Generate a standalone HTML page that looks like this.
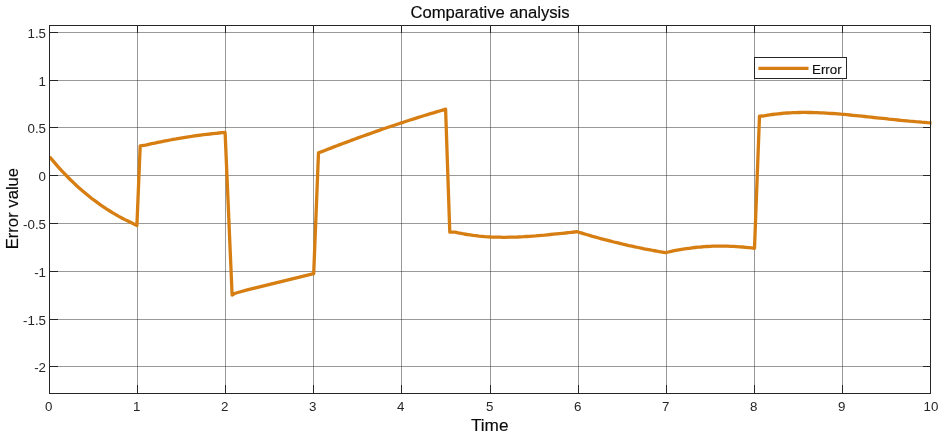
<!DOCTYPE html>
<html lang="en">
<head>
<meta charset="utf-8">
<title>Comparative analysis</title>
<style>
html,body{margin:0;padding:0;background:#fff;}
body{width:946px;height:440px;overflow:hidden;}
svg{display:block;will-change:transform;}
text{font-family:"Liberation Sans",sans-serif;fill:#262626;}
.tk{font-size:13.33px;}
.lb{font-size:16.67px;fill:#0a0a0a;stroke:#0a0a0a;stroke-width:0.15px;}
.lg{font-size:13.33px;fill:#111;stroke:#111;stroke-width:0.15px;}
</style>
</head>
<body>
<svg width="946" height="440" viewBox="0 0 946 440">
<rect x="0" y="0" width="946" height="440" fill="#ffffff"/>

<g stroke="#262626" stroke-opacity="0.47" stroke-width="1" shape-rendering="crispEdges" fill="none">
<line x1="137.5" y1="25.5" x2="137.5" y2="393.5"/>
<line x1="225.5" y1="25.5" x2="225.5" y2="393.5"/>
<line x1="313.5" y1="25.5" x2="313.5" y2="393.5"/>
<line x1="401.5" y1="25.5" x2="401.5" y2="393.5"/>
<line x1="490.5" y1="25.5" x2="490.5" y2="393.5"/>
<line x1="578.5" y1="25.5" x2="578.5" y2="393.5"/>
<line x1="666.5" y1="25.5" x2="666.5" y2="393.5"/>
<line x1="754.5" y1="25.5" x2="754.5" y2="393.5"/>
<line x1="842.5" y1="25.5" x2="842.5" y2="393.5"/>
<line x1="49.5" y1="32.5" x2="930.5" y2="32.5"/>
<line x1="49.5" y1="80.5" x2="930.5" y2="80.5"/>
<line x1="49.5" y1="127.5" x2="930.5" y2="127.5"/>
<line x1="49.5" y1="175.5" x2="930.5" y2="175.5"/>
<line x1="49.5" y1="223.5" x2="930.5" y2="223.5"/>
<line x1="49.5" y1="271.5" x2="930.5" y2="271.5"/>
<line x1="49.5" y1="319.5" x2="930.5" y2="319.5"/>
<line x1="49.5" y1="366.5" x2="930.5" y2="366.5"/>
</g>
<clipPath id="c"><rect x="49.5" y="25.5" width="882.0" height="368.0"/></clipPath>
<path d="M49.6,156.7 L52.6,160.4 L55.6,163.9 L58.6,167.4 L61.6,170.7 L64.7,173.9 L67.7,177.0 L70.7,180.0 L73.7,182.9 L76.7,185.8 L79.7,188.5 L82.7,191.1 L85.7,193.6 L88.7,196.1 L91.7,198.5 L94.8,200.7 L97.8,202.9 L100.8,205.1 L103.8,207.1 L106.8,209.1 L109.8,211.0 L112.8,212.9 L115.8,214.6 L118.8,216.4 L121.8,218.0 L124.9,219.6 L127.9,221.1 L130.9,222.6 L133.9,224.1 L136.9,225.5 L140.2,145.8 L145.6,145.1 L148.7,144.4 L151.7,143.7 L154.8,143.1 L157.8,142.4 L160.9,141.8 L163.9,141.2 L167.0,140.6 L170.1,140.0 L173.1,139.4 L176.2,138.9 L179.2,138.3 L182.3,137.8 L185.3,137.3 L188.4,136.8 L191.5,136.4 L194.5,135.9 L197.6,135.5 L200.6,135.1 L203.7,134.7 L206.8,134.3 L209.8,134.0 L212.9,133.6 L215.9,133.3 L219.0,133.0 L222.0,132.7 L225.1,132.5 L232.1,295.0 L234.6,293.5 L237.8,292.5 L247.3,289.9 L313.7,273.6 L318.5,152.7 L321.8,151.6 L324.8,150.5 L327.8,149.3 L330.9,148.1 L333.9,146.9 L336.9,145.8 L339.9,144.6 L342.9,143.5 L346.0,142.4 L349.0,141.2 L352.0,140.1 L355.0,139.0 L358.0,137.9 L361.1,136.8 L364.1,135.7 L367.1,134.6 L370.1,133.6 L373.1,132.5 L376.2,131.4 L379.2,130.4 L382.2,129.3 L385.2,128.3 L388.2,127.3 L391.2,126.3 L394.3,125.3 L397.3,124.2 L400.3,123.2 L403.3,122.3 L406.3,121.3 L409.4,120.3 L412.4,119.3 L415.4,118.4 L418.4,117.4 L421.4,116.5 L424.5,115.5 L427.5,114.6 L430.5,113.7 L433.5,112.8 L436.5,111.9 L439.6,111.0 L442.6,110.1 L445.6,109.2 L449.8,232.2 L455.2,232.1 L458.2,232.8 L461.2,233.4 L464.1,234.0 L467.1,234.5 L470.1,234.9 L473.1,235.4 L476.0,235.7 L479.0,236.1 L482.0,236.3 L485.0,236.6 L488.0,236.8 L490.9,237.0 L493.9,237.1 L496.9,237.2 L499.9,237.2 L502.8,237.3 L505.8,237.3 L508.8,237.2 L511.8,237.2 L514.8,237.1 L517.7,237.0 L520.7,236.8 L523.7,236.7 L526.7,236.5 L529.7,236.3 L532.6,236.1 L535.6,235.9 L538.6,235.6 L541.6,235.3 L544.5,235.1 L547.5,234.8 L550.5,234.5 L553.5,234.2 L556.5,233.9 L559.4,233.6 L562.4,233.3 L565.4,233.0 L568.4,232.6 L571.3,232.3 L574.3,232.0 L577.3,231.7 L580.3,232.7 L583.4,233.6 L586.4,234.5 L589.5,235.4 L592.5,236.3 L595.5,237.1 L598.6,238.0 L601.6,238.8 L604.6,239.6 L607.7,240.4 L610.7,241.2 L613.8,242.0 L616.8,242.7 L619.8,243.4 L622.9,244.2 L625.9,244.9 L628.9,245.6 L632.0,246.2 L635.0,246.9 L638.1,247.5 L641.1,248.1 L644.1,248.8 L647.2,249.3 L650.2,249.9 L653.2,250.5 L656.3,251.0 L659.3,251.6 L662.4,252.1 L665.4,252.6 L668.4,252.0 L671.3,251.3 L674.3,250.7 L677.3,250.1 L680.2,249.6 L683.2,249.1 L686.2,248.7 L689.2,248.3 L692.1,247.9 L695.1,247.5 L698.1,247.2 L701.0,247.0 L704.0,246.7 L707.0,246.5 L710.0,246.4 L712.9,246.2 L715.9,246.2 L718.9,246.1 L721.8,246.1 L724.8,246.1 L727.8,246.2 L730.7,246.3 L733.7,246.4 L736.7,246.6 L739.6,246.8 L742.6,247.0 L745.6,247.3 L748.6,247.6 L751.5,247.9 L754.5,248.3 L759.5,116.1 L763.5,116.0 L766.5,115.4 L769.5,114.9 L772.4,114.5 L775.4,114.1 L778.4,113.8 L781.4,113.5 L784.4,113.2 L787.4,113.0 L790.3,112.8 L793.3,112.7 L796.3,112.6 L799.3,112.5 L802.3,112.4 L805.2,112.4 L808.2,112.5 L811.2,112.5 L814.2,112.6 L817.2,112.7 L820.2,112.8 L823.1,112.9 L826.1,113.1 L829.1,113.3 L832.1,113.5 L835.1,113.7 L838.1,113.9 L841.0,114.2 L844.0,114.4 L847.0,114.7 L850.0,115.0 L853.0,115.3 L855.9,115.6 L858.9,115.9 L861.9,116.2 L864.9,116.5 L867.9,116.8 L870.9,117.1 L873.8,117.5 L876.8,117.8 L879.8,118.1 L882.8,118.4 L885.8,118.7 L888.8,119.1 L891.7,119.4 L894.7,119.7 L897.7,120.0 L900.7,120.3 L903.7,120.6 L906.6,120.9 L909.6,121.2 L912.6,121.4 L915.6,121.7 L918.6,121.9 L921.6,122.2 L924.5,122.4 L927.5,122.7 L930.5,122.9 L934.0,123.2" fill="none" stroke="#D67E12" stroke-width="3.3" stroke-linejoin="round" stroke-linecap="butt" clip-path="url(#c)"/>
<g stroke="#262626" stroke-width="1" shape-rendering="crispEdges" fill="none">
<rect x="49.5" y="25.5" width="881.0" height="368.0"/>
<line x1="49.5" y1="393.5" x2="49.5" y2="385.0"/>
<line x1="49.5" y1="25.5" x2="49.5" y2="33.0"/>
<line x1="137.5" y1="393.5" x2="137.5" y2="385.0"/>
<line x1="137.5" y1="25.5" x2="137.5" y2="33.0"/>
<line x1="225.5" y1="393.5" x2="225.5" y2="385.0"/>
<line x1="225.5" y1="25.5" x2="225.5" y2="33.0"/>
<line x1="313.5" y1="393.5" x2="313.5" y2="385.0"/>
<line x1="313.5" y1="25.5" x2="313.5" y2="33.0"/>
<line x1="401.5" y1="393.5" x2="401.5" y2="385.0"/>
<line x1="401.5" y1="25.5" x2="401.5" y2="33.0"/>
<line x1="490.5" y1="393.5" x2="490.5" y2="385.0"/>
<line x1="490.5" y1="25.5" x2="490.5" y2="33.0"/>
<line x1="578.5" y1="393.5" x2="578.5" y2="385.0"/>
<line x1="578.5" y1="25.5" x2="578.5" y2="33.0"/>
<line x1="666.5" y1="393.5" x2="666.5" y2="385.0"/>
<line x1="666.5" y1="25.5" x2="666.5" y2="33.0"/>
<line x1="754.5" y1="393.5" x2="754.5" y2="385.0"/>
<line x1="754.5" y1="25.5" x2="754.5" y2="33.0"/>
<line x1="842.5" y1="393.5" x2="842.5" y2="385.0"/>
<line x1="842.5" y1="25.5" x2="842.5" y2="33.0"/>
<line x1="930.5" y1="393.5" x2="930.5" y2="385.0"/>
<line x1="930.5" y1="25.5" x2="930.5" y2="33.0"/>
<line x1="49.5" y1="32.5" x2="57.5" y2="32.5"/>
<line x1="930.5" y1="32.5" x2="922.5" y2="32.5"/>
<line x1="49.5" y1="80.5" x2="57.5" y2="80.5"/>
<line x1="930.5" y1="80.5" x2="922.5" y2="80.5"/>
<line x1="49.5" y1="127.5" x2="57.5" y2="127.5"/>
<line x1="930.5" y1="127.5" x2="922.5" y2="127.5"/>
<line x1="49.5" y1="175.5" x2="57.5" y2="175.5"/>
<line x1="930.5" y1="175.5" x2="922.5" y2="175.5"/>
<line x1="49.5" y1="223.5" x2="57.5" y2="223.5"/>
<line x1="930.5" y1="223.5" x2="922.5" y2="223.5"/>
<line x1="49.5" y1="271.5" x2="57.5" y2="271.5"/>
<line x1="930.5" y1="271.5" x2="922.5" y2="271.5"/>
<line x1="49.5" y1="319.5" x2="57.5" y2="319.5"/>
<line x1="930.5" y1="319.5" x2="922.5" y2="319.5"/>
<line x1="49.5" y1="366.5" x2="57.5" y2="366.5"/>
<line x1="930.5" y1="366.5" x2="922.5" y2="366.5"/>
</g>
<g class="tk" text-anchor="middle">
<text x="48.6" y="411">0</text>
<text x="136.6" y="411">1</text>
<text x="224.6" y="411">2</text>
<text x="312.6" y="411">3</text>
<text x="400.6" y="411">4</text>
<text x="489.6" y="411">5</text>
<text x="577.6" y="411">6</text>
<text x="665.6" y="411">7</text>
<text x="753.6" y="411">8</text>
<text x="841.6" y="411">9</text>
<text x="930.9" y="411">10</text>
</g>
<g class="tk" text-anchor="end">
<text x="46" y="37.9">1.5</text>
<text x="46" y="85.9">1</text>
<text x="46" y="132.9">0.5</text>
<text x="46" y="180.9">0</text>
<text x="46" y="228.9">-0.5</text>
<text x="46" y="276.9">-1</text>
<text x="46" y="324.9">-1.5</text>
<text x="46" y="371.9">-2</text>
</g>
<text class="lb" x="490" y="18" text-anchor="middle">Comparative analysis</text>
<text class="lb" style="font-size:17.2px" x="489.7" y="431" text-anchor="middle">Time</text>
<text class="lb" transform="translate(18.2,208.6) rotate(-90)" text-anchor="middle">Error value</text>
<rect x="754.5" y="57.5" width="92" height="21" fill="#fff" stroke="#262626" stroke-width="1" shape-rendering="crispEdges"/>
<line x1="758.4" y1="68.4" x2="808.5" y2="68.4" stroke="#D67E12" stroke-width="3.3"/>
<text class="lg" x="812" y="73.7">Error</text>
</svg>
</body>
</html>
